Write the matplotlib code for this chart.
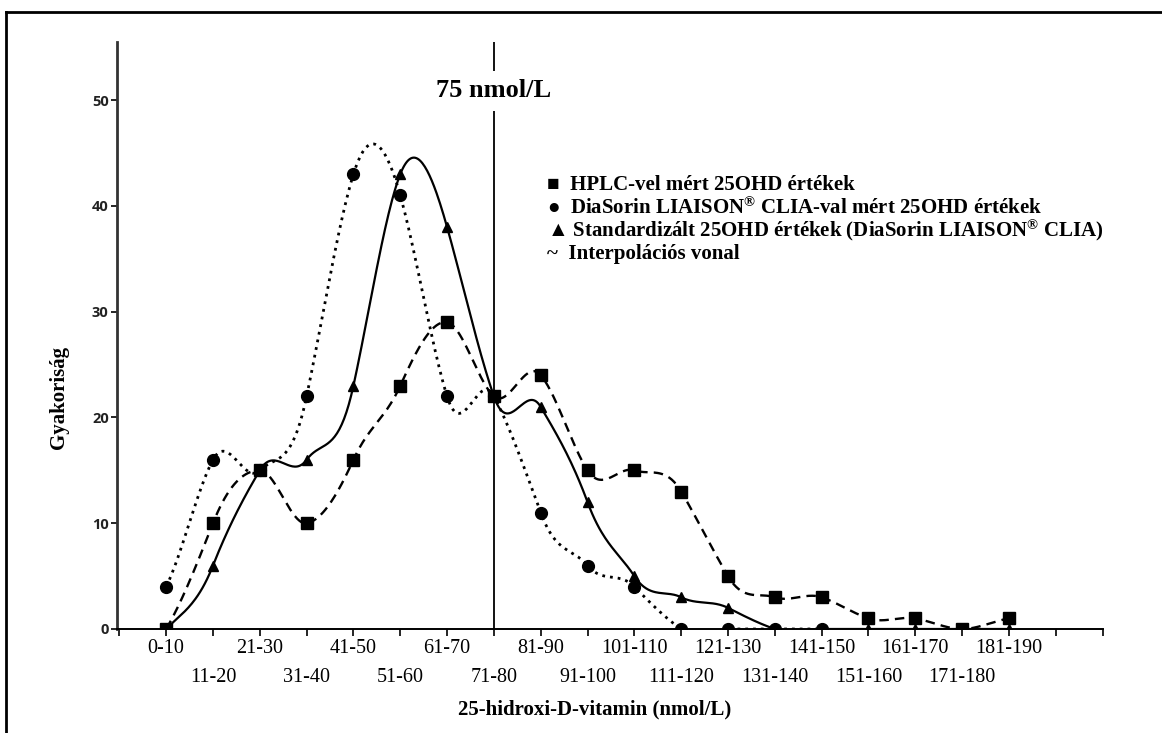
import numpy as np
import matplotlib
matplotlib.use('Agg')
import matplotlib.pyplot as plt
from matplotlib.lines import Line2D

### data ###
cats = ['0-10', '11-20', '21-30', '31-40', '41-50', '51-60', '61-70', '71-80',
        '81-90', '91-100', '101-110', '111-120', '121-130', '131-140', '141-150',
        '151-160', '161-170', '171-180', '181-190']
hplc = [0, 10, 15, 10, 16, 23, 29, 22, 24, 15, 15, 13, 5, 3, 3, 1, 1, 0, 1]
clia = [4, 16, 15, 22, 43, 41, 22, 22, 11, 6, 4, 0, 0, 0, 0]
stand = [0, 6, 15, 16, 23, 43, 38, 22, 21, 12, 5, 3, 2, 0, 0, 0, 0, 0, 0]

legend_lines = ['\u25a0  HPLC-vel mért 25OHD értékek',
                '\u25cf  DiaSorin LIAISON$^{®}$ CLIA-val mért 25OHD értékek',
                '\u25b2 Standardizált 25OHD értékek (DiaSorin LIAISON$^{®}$ CLIA)',
                '~  Interpolációs vonal']

### plotting parameters ###
serif = ['Liberation Serif', 'DejaVu Serif']
plt.rcParams['mathtext.fontset'] = 'custom'
plt.rcParams['mathtext.rm'] = 'Liberation Serif:bold'
plt.rcParams['mathtext.default'] = 'rm'
fs = 15
fstick = 14.5


def smooth(vals, k=1.5, n=40):
    # cardinal spline through the points (like a spreadsheet "smoothed line")
    p = np.asarray(vals, float)
    m = np.empty_like(p)
    m[1:-1] = (p[2:] - p[:-2]) / 2.0
    m[0] = (p[1] - p[0]) / 2.0
    m[-1] = (p[-1] - p[-2]) / 2.0
    m *= k
    t = np.linspace(0, 1, n, endpoint=False)
    h00 = 2*t**3 - 3*t**2 + 1
    h10 = t**3 - 2*t**2 + t
    h01 = -2*t**3 + 3*t**2
    h11 = t**3 - t**2
    xs, ys = [], []
    for i in range(len(p) - 1):
        xs.append(i + t)
        ys.append(h00*p[i] + h10*m[i] + h01*p[i+1] + h11*m[i+1])
    xs.append([len(p) - 1])
    ys.append([p[-1]])
    return np.concatenate(xs), np.concatenate(ys)


fig = plt.figure(figsize=(11.62, 7.33), dpi=100)
ax = fig.add_axes([117/1162., 1 - 629/733., (1103 - 117)/1162., (629 - 42)/733.])

# dotted: CLIA
x, y = smooth(clia)
ax.plot(x, y, color='black', lw=2.0, linestyle=(0, (1, 1.8)))
ax.plot(range(len(clia)), clia, marker='o', ms=8.5, color='black', linestyle='None')
# solid: standardised
x, y = smooth(stand)
ax.plot(x, y, color='black', lw=1.6)
ax.plot(range(len(stand)), stand, marker='^', ms=7.5, color='black', linestyle='None')
# dashed: HPLC
x, y = smooth(hplc)
ax.plot(x, y, color='black', lw=1.7, linestyle=(0, (4, 2.6)))
ax.plot(range(len(hplc)), hplc, marker='s', ms=8.5, color='black', linestyle='None')

# 75 nmol/L line
ax.axvline(7, color='black', lw=1.3)
ax.text(7, 50.9, '75 nmol/L', ha='center', va='center', family=serif, fontweight='bold',
        fontsize=19, bbox=dict(facecolor='white', edgecolor='none', pad=6))

# legend as text
for i, s in enumerate(legend_lines):
    fig.text(547/1162., 1 - (185 + 23*i)/733., s, ha='left', va='center', fontsize=fs,
             fontweight='bold', family=serif)

ax.set_xlim(-1.05, 20.01)
ax.set_ylim(0, 55.5)
ax.spines['top'].set_visible(False)
ax.spines['right'].set_visible(False)
ax.spines['left'].set_linewidth(2.0)
ax.spines['left'].set_color('#333333')
ax.spines['bottom'].set_linewidth(1.4)

ax.set_yticks([0, 10, 20, 30, 40, 50])
ax.tick_params(axis='y', direction='out', length=4, width=1.2, pad=2)
for lab in ax.get_yticklabels():
    lab.set_family('Open Sans')
    lab.set_fontweight('bold')
    lab.set_fontsize(10.5)
    lab.set_color('#222222')

even = list(range(0, 21, 2))
odd = list(range(-1, 20, 2))
ax.set_xticks(even, [cats[i] if i < len(cats) else '' for i in even])
ax.set_xticks(odd, [cats[i] if 0 <= i < len(cats) else '' for i in odd], minor=True)
ax.tick_params(axis='x', which='both', direction='out', length=5, width=1.2)
ax.tick_params(axis='x', which='major', pad=2)
ax.tick_params(axis='x', which='minor', pad=23)
for lab in ax.get_xticklabels(which='both'):
    lab.set_family(serif)
    lab.set_fontsize(fstick)

fig.text(59/1162., 1 - 397/733., 'Gyakoriság', rotation=90, ha='center', va='center',
         fontsize=fs, fontweight='bold', family=serif)
fig.text(595/1162., 1 - 709/733., '25-hidroxi-D-vitamin (nmol/L)', ha='center', va='center',
         fontsize=fs, fontweight='bold', family=serif)

# frame around the figure
fig.add_artist(Line2D([6/1162., 1.0], [1 - 12/733., 1 - 12/733.], color='black', lw=2))
fig.add_artist(Line2D([6/1162., 6/1162.], [0.0, 1 - 12/733.], color='black', lw=2))

plt.savefig('out.png', dpi=100)
plt.close()
